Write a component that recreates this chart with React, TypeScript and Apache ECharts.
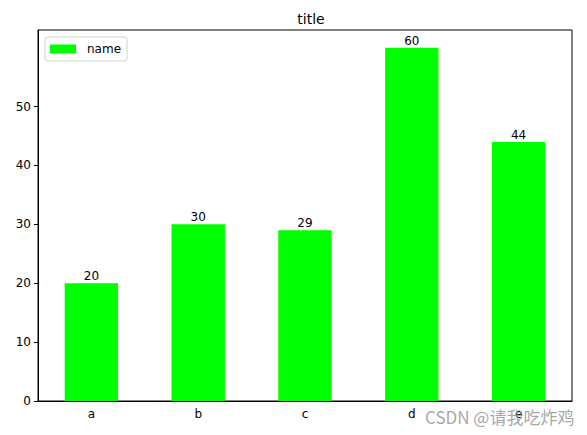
import React, { useEffect, useRef } from "react";
import * as echarts from "echarts";

const categories = ["a", "b", "c", "d", "e"];
const values = [20, 30, 29, 60, 44];
const yTicks = [0, 10, 20, 30, 40, 50];

const font = "DejaVu Sans, sans-serif";

const App = () => {
  const chartRef = useRef<HTMLDivElement>(null);

  useEffect(() => {
    document.body.style.margin = "0";
    if (!chartRef.current) return;
    const chart = echarts.init(chartRef.current, null, { renderer: "svg" });

    chart.setOption({
      animation: false,
      backgroundColor: "#fff",
      title: {
        text: "title",
        left: 306,
        top: 7,
        textAlign: "center",
        textStyle: { fontFamily: font, fontSize: 14, fontWeight: "normal", color: "#000" },
      },
      legend: {
        left: 45,
        top: 37,
        data: ["name"],
        icon: "rect",
        itemWidth: 26,
        itemHeight: 9,
        padding: [6, 6, 6, 5],
        borderColor: "#d0d0d0",
        borderWidth: 1,
        borderRadius: 3,
        textStyle: { fontFamily: font, fontSize: 12, color: "#000", padding: [0, 0, 0, 6] },
      },
      grid: {
        left: 38,
        right: 15,
        top: 30,
        bottom: 34,
        show: true,
        borderColor: "#000",
        borderWidth: 1,
      },
      xAxis: {
        type: "category",
        data: categories,
        axisLine: { lineStyle: { color: "#000" } },
        axisTick: { alignWithLabel: true, inside: false, length: 4, lineStyle: { color: "#000" } },
        axisLabel: { fontFamily: font, fontSize: 12, color: "#000", margin: 7 },
        splitLine: { show: false },
      },
      yAxis: {
        type: "value",
        min: 0,
        max: 63,
        interval: 10,
        axisLine: { show: true, lineStyle: { color: "#000" } },
        axisTick: { show: true, length: 4, customValues: yTicks, lineStyle: { color: "#000" } },
        axisLabel: { fontFamily: font, fontSize: 12, color: "#000", margin: 7, customValues: yTicks },
        splitLine: { show: false },
      },
      series: [
        {
          name: "name",
          type: "bar",
          data: values,
          barWidth: "50%",
          itemStyle: { color: "#00ff00" },
          label: {
            show: true,
            position: "top",
            distance: 1,
            fontFamily: font,
            fontSize: 12,
            color: "#000",
          },
        },
      ],
      graphic: [
        {
          type: "text",
          left: 425,
          top: 408,
          z: 100,
          style: {
            text: "CSDN @请我吃炸鸡",
            font: "17px 'Noto Sans CJK SC', sans-serif",
            fill: "rgba(150,150,150,0.85)",
          },
        },
      ],
    });

    return () => chart.dispose();
  }, []);

  return <div ref={chartRef} style={{ width: 587, height: 435 }} />;
};

export default App;
